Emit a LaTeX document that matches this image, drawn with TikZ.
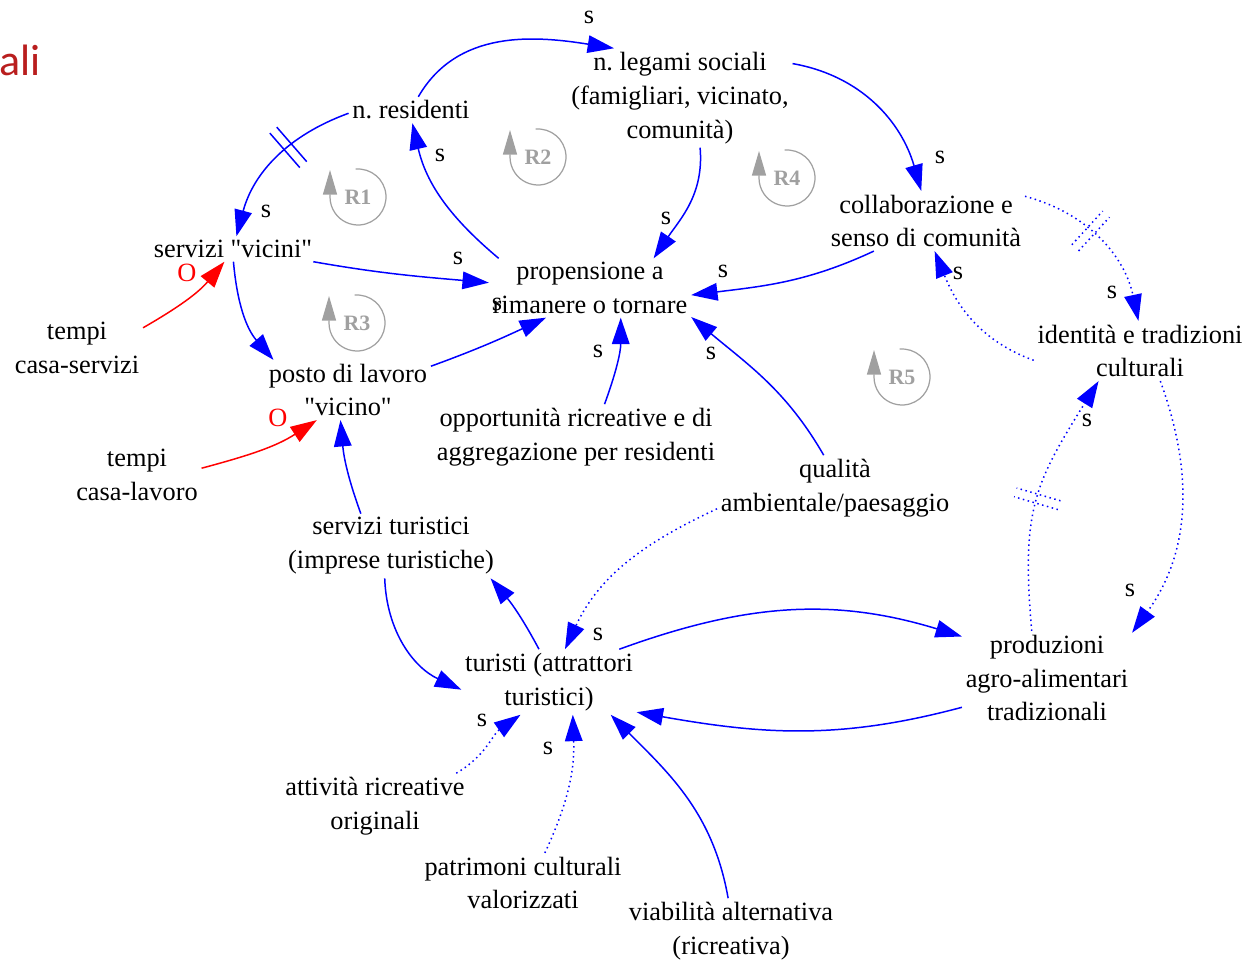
\documentclass[tikz,border=0pt]{standalone}
\usepackage{fontspec}
\setmainfont{Liberation Serif}
\newfontfamily\slidefont{Carlito}
\usetikzlibrary{arrows.meta,decorations.markings}
\newcommand*{\vfont}{\fontsize{15}{19.3}\selectfont}
\newcommand*{\q}{\textquotedbl}
\definecolor{slidered}{RGB}{185,30,30}
\definecolor{loopgray}{RGB}{160,160,160}

\tikzset{
  var/.style={align=center,font=\vfont,inner sep=2pt},
  sgn/.style={font=\vfont,inner sep=0pt},
  osgn/.style={sgn,text=red},
  link/.style={blue,line width=0.85pt,-{Triangle[length=15pt,width=10pt]}},
  dlink/.style={link,dotted},
  olink/.style={link,red},
  delay/.style={postaction={decorate},decoration={markings,mark=at position #1 with
    {\draw[-,blue,solid,line width=0.85pt] (-2.6pt,-13pt)--(-2.6pt,13pt) (2.6pt,-13pt)--(2.6pt,13pt);}}},
  ddelay/.style={postaction={decorate},decoration={markings,mark=at position #1 with
    {\draw[-,blue,dotted,line width=0.85pt] (-2.6pt,-13pt)--(-2.6pt,13pt) (2.6pt,-13pt)--(2.6pt,13pt);}}},
  loopl/.style={font=\fontsize{12.5}{14}\selectfont\bfseries,text=loopgray,inner sep=0pt},
  loopc/.style={loopgray,line width=0.7pt,-{Triangle[length=14pt,width=8pt]}}
}

\begin{document}
\begin{tikzpicture}[x=0.02cm,y=0.02cm]
\useasboundingbox (0,0) rectangle (1250,-962);
% slide title, cut at the left edge
\node[font=\slidefont\fontsize{25}{30}\selectfont,text=slidered,anchor=base west,inner sep=0pt] (ttl) at (-1,-76) {ali};
% variables
\node[var] (res) at (411,-110) {n.\ residenti};
\node[var] (leg) at (680,-98) {n.\ legami sociali\\(famigliari, vicinato,\\comunità)};
\node[var] (col) at (926,-221) {collaborazione e\\senso di comunità};
\node[var] (ide) at (1140,-351) {identità e tradizioni\\culturali};
\node[var] (serv) at (233,-249) {servizi \q vicini\q};
\node[var] (prop) at (590,-288) {propensione a\\rimanere o tornare};
\node[var] (tcs) at (77,-348) {tempi\\casa-servizi};
\node[var] (posto) at (348,-390) {posto di lavoro\\\q vicino\q};
\node[var] (opp) at (576,-437) {opportunità ricreative e di\\aggregazione per residenti};
\node[var] (qual) at (835,-488) {qualità\\ambientale/paesaggio};
\node[var] (tcl) at (137,-475) {tempi\\casa-lavoro};
\node[var] (stur) at (391,-546) {servizi turistici\\(imprese turistiche)};
\node[var] (tur) at (549,-682) {turisti (attrattori\\turistici)};
\node[var] (prod) at (1047,-678) {produzioni\\agro-alimentari\\tradizionali};
\node[var] (att) at (375,-806) {attività ricreative\\originali};
\node[var] (pat) at (523,-883) {patrimoni culturali\\valorizzati};
\node[var] (via) at (731,-931) {viabilità alternativa\\(ricreativa)};
% causal links
\draw[link,delay=0.4] (res.183) to[out=200,in=75] (serv.75);
\draw[link] (res.61) to[out=60,in=171] (leg.143);
\draw[link] (leg.17) to[out=-10,in=106] (col.99);
\draw[link] (leg.-68) to[out=-85,in=56] (prop.25);
\draw[link] (prop.162) to[out=140,in=-77] (res.-84);
\draw[link] (col.210) to[out=205,in=7] (prop.-4);
\draw[dlink,ddelay=0.42] (col.14) to[out=-15,in=102] (ide.93);
\draw[dlink] (ide.185) to[out=160,in=-68] (col.-74);
\draw[dlink] (ide.-56) to[out=-70,in=54] (prod.28);
\draw[dlink,ddelay=0.5] (prod.108) to[out=95,in=238,looseness=1.2] (ide.216);
\draw[link] (serv.-9) to[out=-10,in=175] (prop.177);
\draw[link] (serv.-88) to[out=-85,in=131] (posto.158);
\draw[olink] (tcs.17) to[out=30,in=230] (serv.236);
\draw[link] (posto.16) to[out=20,in=205] (prop.214);
\draw[olink] (tcl.6) to[out=15,in=213] (posto.224);
\draw[link] (stur.133) to[out=110,in=-85] (posto.256);
\draw[link] (opp.49) to[out=70,in=-90] (prop.-44);
\draw[link] (qual.109) to[out=120,in=-40] (prop.-16);
\draw[dlink] (qual.190) to[out=205,in=65] (tur.64);
\draw[link] (tur.107) to[out=118,in=-50] (stur.-18);
\draw[link] (stur.259) to[out=-88,in=155] (tur.185);
\draw[link] (tur.25) to[out=20,in=163] (prod.154);
\draw[link] (prod.199) to[out=195,in=-10] (tur.-19);
\draw[dlink] (att.22) to[out=30,in=215] (tur.229);
\draw[dlink] (pat.54) to[out=65,in=-88] (tur.-54);
\draw[link] (via.95) to[out=100,in=-45] (tur.-28);
% polarities
\foreach \px/\py [count=\i] in {266/211,589/17,940/157,666/218,440/155,723/271,
    1112/292,958/273,1130/590,1087/420,458/258,497/304,598/351,711/353,598/634,
    482/720,548/748}
  \node[sgn] (s\i) at (\px,-\py) {s};
\node[osgn] (o1) at (187,-273) {O};
\node[osgn] (o2) at (278,-418) {O};
% loop markers
\foreach \nm/\px/\py in {R1/358/197,R2/538/157,R3/357/323,R4/787/178,R5/902/377} {
  \node[loopl] (\nm) at (\px,-\py) {\nm};
  \draw[loopc] (\nm.center) ++(95:28) arc[start angle=95,end angle=-180,radius=28] -- ++(0,27);
}
\end{tikzpicture}
\end{document}
